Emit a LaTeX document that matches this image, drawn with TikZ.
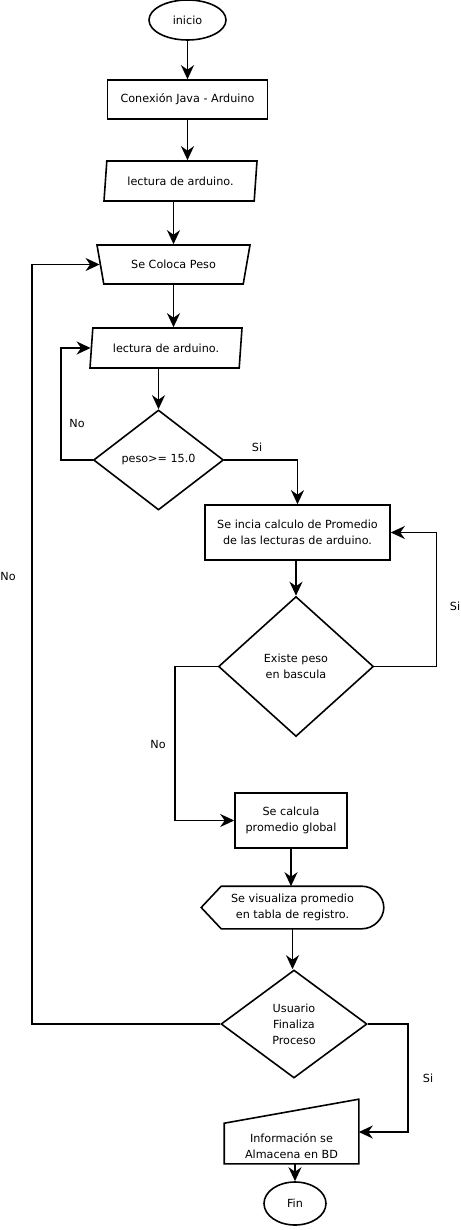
\documentclass[tikz,border=0pt]{standalone}
\usepackage{fontspec}
\setmainfont{DejaVu Sans}
\usetikzlibrary{shapes.geometric,arrows.meta}

\begin{document}
\begin{tikzpicture}[x=1pt,y=-1pt,line width=1.6pt,font=\fontsize{11.2}{16}\selectfont]
\tikzset{caja/.style = {draw, rectangle, inner sep=0pt, align=center},
   ovalo/.style = {draw, ellipse, inner sep=0pt},
   datos/.style = {draw, trapezium, trapezium left angle=72, trapezium right angle=108, trapezium stretches body, inner sep=0pt},
   manual/.style = {draw, trapezium, trapezium left angle=128, trapezium right angle=128, trapezium stretches body, inner sep=0pt},
   decision/.style = {draw, diamond, inner sep=0pt, align=center},
   texto/.style = {inner sep=0pt, align=center},
   flecha/.style = {-{Stealth[length=14pt,width=13pt,inset=4.5pt]}}}
\useasboundingbox (0,0) rectangle (460,1230);
   \node[ovalo, minimum width=77, minimum height=40] (inicio) at (187.5,20) {inicio};
   \node[caja, minimum width=160, minimum height=39] (conexion) at (187.5,99.5) {Conexión Java - Arduino};
   \node[datos, minimum width=153, minimum height=40] (lect1) at (180.5,181) {lectura de arduino.};
   \node[manual, minimum width=153, minimum height=39] (peso) at (173.5,264.5) {Se Coloca Peso};
   \node[datos, minimum width=152, minimum height=40] (lect2) at (166,348) {lectura de arduino.};
   \node[decision, minimum width=130, minimum height=100] (dec1) at (158.5,460) {peso>= 15.0};
   \node[caja, minimum width=185, minimum height=55] (prom) at (297.5,532.5) {Se incia calculo de Promedio\\de las lecturas de arduino.};
   \node[decision, minimum width=155, minimum height=140] (dec2) at (296,666.5) {Existe peso\\en bascula};
   \node[caja, minimum width=112, minimum height=55] (global) at (291,820.5) {Se calcula\\promedio global};
   \node[texto, minimum width=181, minimum height=41] (disp) at (292.5,907.5) {Se visualiza promedio\\en tabla de registro.};
   \node[decision, minimum width=146, minimum height=108] (dec3) at (294,1024) {Usuario\\Finaliza\\Proceso};
   \node[texto, minimum width=133, minimum height=34] (info) at (291.5,1146) {Información se\\Almacena en BD};
   \node[ovalo, minimum width=62, minimum height=43] (fin) at (295,1203.5) {Fin};
   \node[texto] (no1) at (77,423) {No};
   \node[texto] (si1) at (257,447) {Si};
   \node[texto] (si2) at (455,606) {Si};
   \node[texto] (no2) at (158,744) {No};
   \node[texto] (no3) at (8,576) {No};
   \node[texto] (si3) at (428,1078) {Si};
   \draw (disp.west) -- ([xshift=20pt]disp.north west) -- ([xshift=-22pt]disp.north east) .. controls ([xshift=-10pt]disp.north east) and ([yshift=11pt]disp.east) .. (disp.east) .. controls ([yshift=-11pt]disp.east) and ([xshift=-10pt]disp.south east) .. ([xshift=-22pt]disp.south east) -- ([xshift=20pt]disp.south west) -- cycle;
   \draw (info.south west) -- (info.south east) -- ([yshift=29pt]info.north east) -- ([yshift=5pt]info.north west) -- cycle;
   \draw[flecha] (inicio.south) -- (conexion.north);
   \draw[flecha] (conexion.south) -- (conexion.south |- lect1.north);
   \draw[flecha] (peso.north |- lect1.south) -- (peso.north);
   \draw[flecha] (peso.south) -- (peso.south |- lect2.north);
   \draw[flecha] (dec1.north |- lect2.south) -- (dec1.north);
   \draw[flecha] (dec1.west) -- ++(-32,0) |- (lect2.left side);
   \draw[flecha] (dec1.east) -| (prom.north);
   \draw[flecha] (dec2.north |- prom.south) -- (dec2.north);
   \draw[flecha] (dec2.east) -- ++(62,0) |- (prom.east);
   \draw[flecha] (dec2.west) -- ++(-43,0) |- (global.west);
   \draw[flecha] (global.south) -- (global.south |- disp.north);
   \draw[flecha] (disp.south) -- (disp.south |- dec3.north);
   \draw[flecha] (dec3.west) -- ++(-188,0) |- (peso.left side);
   \draw[flecha] (dec3.east) -- ++(40,0) |- ([yshift=14pt]info.east);
   \draw[flecha] (fin.north |- info.south) -- (fin.north);
\end{tikzpicture}
\end{document}
